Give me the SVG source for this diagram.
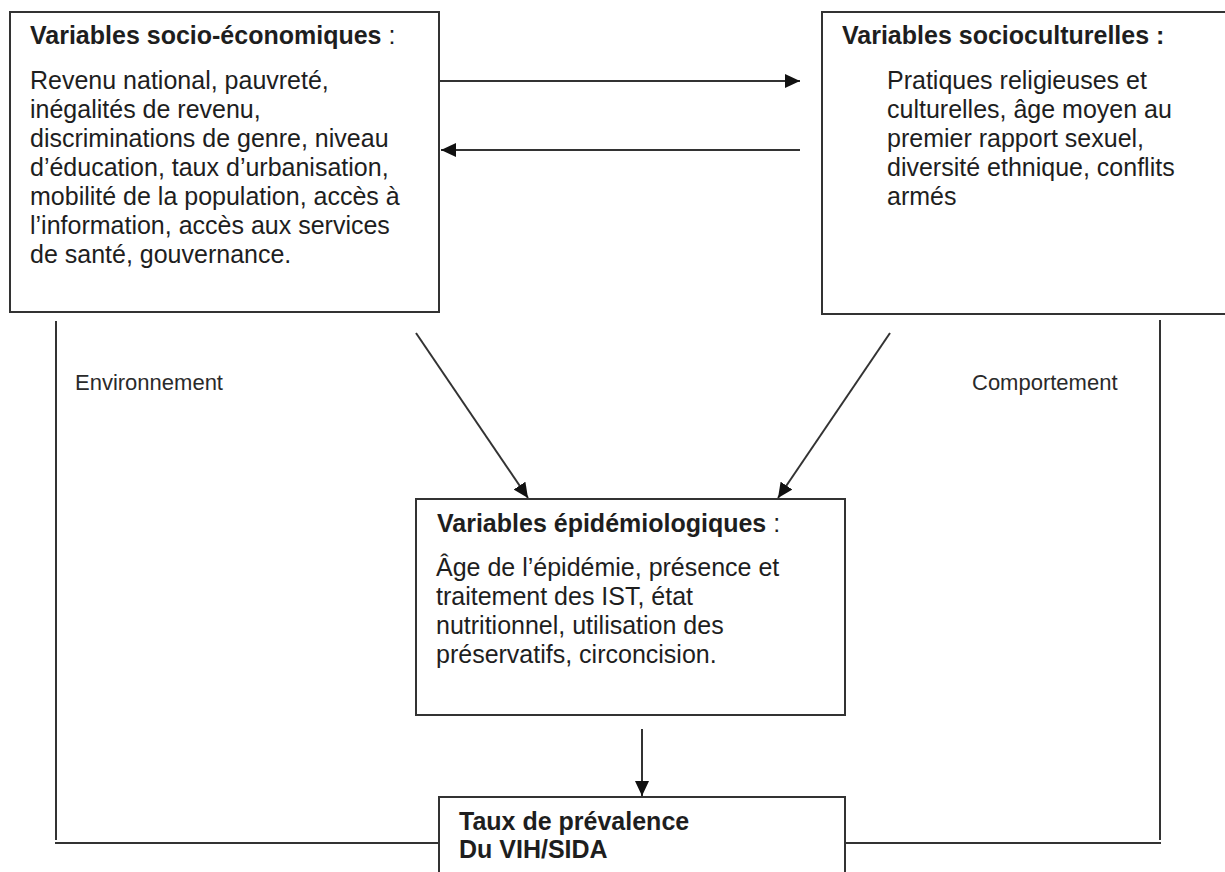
<svg xmlns="http://www.w3.org/2000/svg" width="1225" height="872" viewBox="0 0 1225 872">
<style>
.box{fill:#fff;stroke:#333;stroke-width:2}
.ln{fill:none;stroke:#333;stroke-width:2}
.t{font-family:"Liberation Sans",Arial,sans-serif;font-size:25px;fill:#1e1e1e}
.b{font-weight:bold}
.n{font-weight:normal}
.lab{font-family:"Liberation Sans",Arial,sans-serif;font-size:22px;fill:#2a2a2a}
</style>
<defs>
<marker id="ah" markerUnits="userSpaceOnUse" markerWidth="16" markerHeight="14" refX="15" refY="7" orient="auto">
<path d="M0,0 L15,7 L0,14 Z" fill="#111"/>
</marker>
</defs>
<rect width="1225" height="872" fill="#fff"/>
<g id="connectors">
<line class="ln" x1="440" y1="81" x2="800" y2="81" marker-end="url(#ah)"/>
<line class="ln" x1="800" y1="150" x2="441" y2="150" marker-end="url(#ah)"/>
<line class="ln" x1="416" y1="333" x2="528" y2="498" marker-end="url(#ah)"/>
<line class="ln" x1="890" y1="333" x2="778" y2="498" marker-end="url(#ah)"/>
<line class="ln" x1="642" y1="729" x2="642" y2="796" marker-end="url(#ah)"/>
<polyline class="ln" points="56,321 56,840"/>
<line class="ln" x1="55" y1="843" x2="439" y2="843"/>
<polyline class="ln" points="1160,320 1160,840"/>
<line class="ln" x1="845" y1="843" x2="1161" y2="843"/>
</g>
<g id="socioeco">
<rect class="box" x="10" y="12" width="429" height="300"/>
<text class="t b" x="30" y="44">Variables socio-économiques<tspan class="n"> :</tspan></text>
<text class="t" x="30" y="89">Revenu national, pauvreté,</text>
<text class="t" x="30" y="118">inégalités de revenu,</text>
<text class="t" x="30" y="147">discriminations de genre, niveau</text>
<text class="t" x="30" y="176">d’éducation, taux d’urbanisation,</text>
<text class="t" x="30" y="205">mobilité de la population, accès à</text>
<text class="t" x="30" y="234">l’information, accès aux services</text>
<text class="t" x="30" y="263">de santé, gouvernance.</text>
</g>
<g id="sociocult">
<rect class="box" x="822" y="12" width="410" height="302"/>
<text class="t b" x="842" y="44">Variables socioculturelles :</text>
<text class="t" x="887" y="89">Pratiques religieuses et</text>
<text class="t" x="887" y="118">culturelles, âge moyen au</text>
<text class="t" x="887" y="147">premier rapport sexuel,</text>
<text class="t" x="887" y="176">diversité ethnique, conflits</text>
<text class="t" x="887" y="205">armés</text>
</g>
<g id="epidemio">
<rect class="box" x="416" y="499" width="429" height="216"/>
<text class="t b" x="437" y="532">Variables épidémiologiques<tspan class="n"> :</tspan></text>
<text class="t" x="436" y="576">Âge de l’épidémie, présence et</text>
<text class="t" x="436" y="605">traitement des IST, état</text>
<text class="t" x="436" y="634">nutritionnel, utilisation des</text>
<text class="t" x="436" y="663">préservatifs, circoncision.</text>
</g>
<g id="prevalence">
<rect class="box" x="439" y="797" width="406" height="90"/>
<text class="t b" x="459" y="830">Taux de prévalence</text>
<text class="t b" x="459" y="858">Du VIH/SIDA</text>
</g>
<g id="labels">
<text class="lab" x="75" y="390">Environnement</text>
<text class="lab" x="972" y="390">Comportement</text>
</g>
</svg>
